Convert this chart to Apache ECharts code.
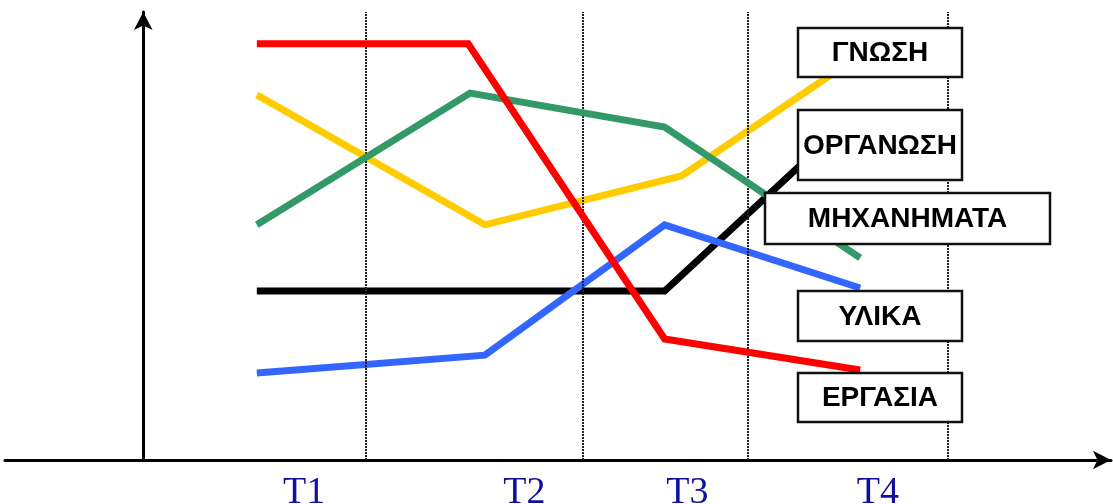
<!DOCTYPE html>
<html>
<head>
<meta charset="utf-8">
<script src="https://cdn.jsdelivr.net/npm/echarts@6/dist/echarts.min.js"></script>
<style>
  html, body { margin: 0; padding: 0; background: #fff; }
  #main { width: 1113px; height: 504px; }
</style>
</head>
<body>
<div id="main"></div>
<script>
// x positions are in "time" units along the horizontal axis, y in 0..100
var ergasia = [[11.5, 92.9], [32.9, 92.9], [52.8, 27.0], [72.6, 20.1]];
var gnosi = [[11.5, 81.5], [34.6, 52.5], [54.5, 63.4], [72.6, 90.4]];
var michanimata = [[11.5, 52.5], [33.1, 81.9], [52.8, 74.3], [72.6, 45.1]];
var ylika = [[11.5, 19.4], [34.6, 23.4], [52.8, 52.5], [72.6, 38.4]];
var organosi = [[11.5, 37.7], [52.8, 37.7], [70.4, 73.7]];

var periods = ['T1', 'T2', 'T3', 'T4'];
var periodPos = [16.3, 38.6, 55.1, 74.4];
var dividers = [22.5, 44.5, 61.2, 81.5];

var names = ['ΓΝΩΣΗ', 'ΟΡΓΑΝΩΣΗ', 'ΜΗΧΑΝΗΜΑΤΑ', 'ΥΛΙΚΑ', 'ΕΡΓΑΣΙΑ'];
// label boxes [x, y, w, h]
var boxes = [
  [798, 28, 164, 49],
  [798, 110, 164, 70],
  [765, 193, 285, 51],
  [798, 291, 164, 50],
  [798, 373, 164, 49]
];

var chart = echarts.init(document.getElementById('main'));

function line(name, data, color, z) {
  return {
    name: name,
    type: 'line',
    data: data,
    z: z,
    symbol: 'none',
    silent: true,
    lineStyle: { color: color, width: 7, cap: 'butt', join: 'miter' }
  };
}

var graphics = [];
boxes.forEach(function (b, i) {
  graphics.push({
    type: 'rect',
    shape: { x: b[0], y: b[1], width: b[2], height: b[3] },
    style: { fill: '#fff', stroke: '#111', lineWidth: 2.5 },
    z: 100
  });
  graphics.push({
    type: 'text',
    x: b[0] + b[2] / 2,
    y: b[1] + b[3] / 2 + 1,
    style: {
      text: names[i],
      font: 'bold 28px "Liberation Sans", Arial, sans-serif',
      fill: '#000',
      align: 'center',
      verticalAlign: 'middle'
    },
    z: 101
  });
});

var option = {
  animation: false,
  grid: { left: 5, right: 2, top: 12, bottom: 44, outerBoundsMode: 'none' },
  xAxis: {
    type: 'value',
    min: -14,
    max: 98,
    splitLine: { show: false },
    axisTick: { show: false },
    axisLine: {
      show: true,
      symbol: ['none', 'arrow'],
      symbolSize: [14, 18],
      lineStyle: { color: '#000', width: 3 }
    },
    axisLabel: {
      customValues: periodPos,
      margin: 14,
      formatter: function (v) {
        var i = periodPos.indexOf(v);
        return i >= 0 ? periods[i] : '';
      },
      fontFamily: '"Liberation Serif", "Times New Roman", serif',
      fontSize: 38,
      color: '#10109a'
    }
  },
  yAxis: {
    type: 'value',
    min: 0,
    max: 100,
    splitLine: { show: false },
    axisTick: { show: false },
    axisLabel: { show: false },
    axisLine: {
      show: true,
      onZero: true,
      symbol: ['none', 'arrow'],
      symbolSize: [14, 18],
      lineStyle: { color: '#000', width: 3 }
    }
  },
  series: [
    {
      type: 'line',
      data: [],
      markLine: {
        silent: true,
        symbol: 'none',
        label: { show: false },
        lineStyle: { color: '#222', width: 2, type: [2, 1] },
        data: dividers.map(function (x) { return { xAxis: x }; })
      }
    },
    line('ΟΡΓΑΝΩΣΗ', organosi, '#000000', 2),
    line('ΥΛΙΚΑ', ylika, '#3366ff', 3),
    line('ΓΝΩΣΗ', gnosi, '#ffcc00', 4),
    line('ΜΗΧΑΝΗΜΑΤΑ', michanimata, '#339966', 5),
    line('ΕΡΓΑΣΙΑ', ergasia, '#ff0000', 6)
  ],
  graphic: graphics
};

chart.setOption(option);
</script>
</body>
</html>
